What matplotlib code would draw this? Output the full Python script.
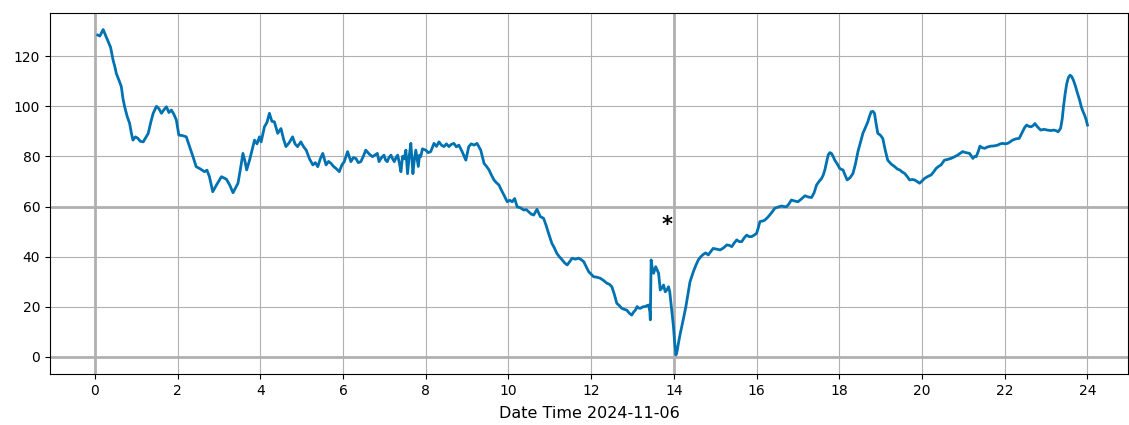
import matplotlib
matplotlib.use("Agg")
import matplotlib.pyplot as plt

# hours of the day and the reading
hours = [
    0.07, 0.12, 0.2, 0.26, 0.32, 0.38, 0.44, 0.48, 0.52, 0.58, 0.64, 0.68, 0.72, 0.78, 0.84, 0.88,
    0.92, 0.98, 1.04, 1.1, 1.17, 1.23, 1.29, 1.35, 1.41, 1.49, 1.55, 1.61, 1.67, 1.73, 1.79,
    1.85, 1.91, 1.97, 2.03, 2.12, 2.21, 2.29, 2.37, 2.45, 2.55, 2.65, 2.71, 2.77, 2.85, 2.94,
    3.06, 3.18, 3.26, 3.34, 3.46, 3.52, 3.58, 3.63, 3.67, 3.74, 3.8, 3.86, 3.92, 3.98, 4.02,
    4.1, 4.16, 4.22, 4.28, 4.34, 4.42, 4.5, 4.56, 4.62, 4.7, 4.78, 4.84, 4.9, 4.98, 5.04,
    5.11, 5.19, 5.27, 5.33, 5.39, 5.45, 5.51, 5.59, 5.65, 5.71, 5.77, 5.83, 5.91, 5.97, 6.03,
    6.11, 6.19, 6.25, 6.31, 6.37, 6.43, 6.49, 6.55, 6.63, 6.71, 6.77, 6.83, 6.87, 6.93, 6.99,
    7.03, 7.07, 7.11, 7.16, 7.2, 7.24, 7.28, 7.32, 7.36, 7.4, 7.44, 7.48, 7.52, 7.56, 7.6,
    7.64, 7.69, 7.72, 7.76, 7.82, 7.85, 7.88, 7.92, 8.0, 8.06, 8.12, 8.2, 8.26, 8.32, 8.38,
    8.44, 8.5, 8.56, 8.62, 8.68, 8.74, 8.8, 8.88, 8.97, 9.04, 9.1, 9.17, 9.24, 9.33, 9.41,
    9.47, 9.53, 9.59, 9.65, 9.71, 9.77, 9.83, 9.89, 9.97, 10.03, 10.09, 10.15, 10.21, 10.29,
    10.37, 10.43, 10.49, 10.55, 10.61, 10.69, 10.77, 10.85, 10.91, 10.97, 11.05, 11.11,
    11.17, 11.23, 11.3, 11.36, 11.42, 11.48, 11.54, 11.62, 11.7, 11.76, 11.82, 11.88, 11.94,
    12.0, 12.06, 12.14, 12.22, 12.3, 12.38, 12.44, 12.5, 12.56, 12.62, 12.68, 12.74, 12.8,
    12.86, 12.92, 12.98, 13.03, 13.07, 13.11, 13.15, 13.19, 13.25, 13.31, 13.35, 13.39,
    13.42, 13.43, 13.45, 13.48, 13.51, 13.56, 13.6, 13.63, 13.67, 13.71, 13.75, 13.79, 13.83,
    13.87, 13.9, 13.93, 13.96, 13.99, 14.02, 14.05, 14.08, 14.11, 14.15, 14.19, 14.24,
    14.29, 14.34, 14.39, 14.43, 14.47, 14.53, 14.59, 14.65, 14.71, 14.77, 14.83, 14.89,
    14.95, 15.03, 15.12, 15.2, 15.28, 15.34, 15.4, 15.46, 15.52, 15.58, 15.64, 15.7, 15.76,
    15.82, 15.88, 15.94, 16.0, 16.04, 16.08, 16.14, 16.2, 16.28, 16.36, 16.44, 16.52, 16.6,
    16.66, 16.72, 16.78, 16.84, 16.92, 17.0, 17.08, 17.17, 17.25, 17.33, 17.39, 17.45, 17.51,
    17.57, 17.61, 17.65, 17.69, 17.73, 17.77, 17.81, 17.85, 17.89, 17.95, 18.01, 18.05,
    18.09, 18.14, 18.19, 18.26, 18.33, 18.39, 18.45, 18.51, 18.57, 18.63, 18.69, 18.73,
    18.77, 18.81, 18.85, 18.89, 18.93, 18.99, 19.05, 19.11, 19.17, 19.25, 19.34, 19.4,
    19.46, 19.52, 19.58, 19.64, 19.7, 19.76, 19.82, 19.88, 19.94, 20.0, 20.06, 20.14, 20.22,
    20.28, 20.34, 20.4, 20.46, 20.54, 20.62, 20.7, 20.78, 20.86, 20.92, 20.98, 21.06, 21.15,
    21.19, 21.23, 21.27, 21.31, 21.36, 21.4, 21.45, 21.51, 21.59, 21.67, 21.75, 21.83,
    21.89, 21.95, 22.01, 22.07, 22.13, 22.19, 22.27, 22.35, 22.39, 22.43, 22.48, 22.53,
    22.58, 22.63, 22.68, 22.73, 22.79, 22.87, 22.95, 23.03, 23.11, 23.19, 23.25, 23.29,
    23.35, 23.39, 23.42, 23.46, 23.5, 23.54, 23.58, 23.62, 23.66, 23.71, 23.76, 23.81,
    23.85, 23.89, 23.93, 23.97, 24.0,
]
values = [
    128.4, 128.0, 130.6, 128.2, 125.7, 123.5, 118.4, 116.0, 113.0, 110.5, 107.8, 103.0, 99.8, 96.0, 93.2, 89.5,
    86.5, 87.8, 87.2, 86.0, 85.8, 87.5, 89.2, 93.5, 97.2, 100.0, 99.0, 97.2, 98.6, 99.8, 97.5,
    98.5, 96.8, 94.5, 88.5, 88.3, 87.8, 83.9, 80.0, 75.9, 75.0, 73.9, 74.5, 71.9, 65.9, 68.6,
    71.9, 70.9, 68.6, 65.5, 69.3, 75.0, 81.2, 78.0, 74.6, 78.5, 82.5, 86.5, 85.0, 87.8, 85.8,
    91.8, 93.5, 97.2, 94.0, 93.8, 89.2, 91.1, 87.0, 83.9, 85.5, 87.8, 85.0, 83.9, 85.8, 84.0,
    82.5, 79.0, 76.6, 77.5, 75.9, 79.0, 81.2, 76.6, 78.0, 77.2, 76.0, 75.2, 73.9, 76.5, 77.9,
    81.9, 77.9, 79.5, 79.2, 77.5, 77.9, 80.0, 82.5, 81.0, 79.9, 80.5, 81.2, 77.9, 79.5, 80.5,
    78.5, 77.9, 79.5, 80.5, 79.0, 77.9, 79.5, 80.5, 77.5, 73.9, 80.0, 79.0, 82.5, 73.1, 80.0,
    85.2, 73.1, 78.0, 82.5, 76.0, 80.5, 79.9, 83.0, 82.5, 81.5, 81.9, 85.2, 84.0, 85.8, 84.5,
    83.9, 85.0, 83.9, 84.8, 85.2, 83.8, 84.5, 81.9, 78.5, 83.9, 85.0, 84.5, 85.2, 82.5, 77.2,
    76.0, 74.6, 72.5, 70.6, 69.5, 68.6, 66.5, 64.6, 61.9, 62.5, 61.9, 63.2, 59.9, 59.5,
    58.6, 58.8, 57.9, 57.0, 56.6, 58.9, 56.0, 55.3, 52.5, 49.3, 45.3, 43.5,
    41.3, 40.0, 38.7, 37.5, 36.7, 38.0, 39.4, 39.0, 39.4, 38.8, 38.0, 36.0, 34.0,
    33.0, 32.0, 31.8, 31.4, 30.5, 29.4, 29.0, 28.0, 25.0, 21.4, 20.5, 19.4, 19.0,
    18.7, 17.5, 16.7, 18.0, 18.7, 20.1, 19.5, 19.4, 20.0, 20.1, 20.5, 20.7,
    18.0, 14.8, 38.7, 35.0, 33.4, 36.0, 34.5, 33.4, 26.7, 27.5, 28.7, 26.0, 26.7,
    28.0, 26.0, 21.4, 17.0, 12.1, 5.5, 0.8, 2.5, 5.5, 9.0, 12.1, 16.0,
    20.1, 25.0, 30.0, 32.0, 34.0, 36.5, 38.7, 40.0, 40.9, 41.5, 40.7, 42.0,
    43.3, 43.0, 42.7, 43.5, 44.7, 44.5, 44.0, 45.5, 46.7, 46.0, 46.0, 47.5, 48.6,
    48.0, 48.0, 48.6, 49.3, 51.5, 54.0, 54.2, 54.6, 55.9, 57.5, 59.3, 59.8, 60.2,
    60.0, 59.9, 61.0, 62.6, 62.2, 61.9, 63.0, 64.3, 63.8, 63.6, 65.5, 68.6, 70.0,
    71.2, 72.5, 74.6, 77.5, 80.5, 81.5, 81.2, 80.0, 78.5, 77.0, 75.2, 74.8,
    74.6, 72.5, 70.6, 71.5, 73.2, 77.0, 81.9, 85.5, 89.2, 91.5, 93.8, 96.0,
    97.8, 98.0, 97.2, 93.0, 89.2, 88.5, 87.2, 82.5, 78.5, 77.0, 75.9, 75.0,
    74.6, 73.8, 73.2, 72.0, 70.6, 70.8, 70.6, 70.0, 69.3, 70.2, 71.2, 72.0, 72.6,
    73.8, 75.2, 76.0, 76.6, 78.5, 78.8, 79.2, 79.8, 80.5, 81.2, 81.9, 81.5, 81.2,
    80.2, 79.2, 80.0, 79.9, 82.0, 84.1, 83.5, 83.2, 83.8, 84.1, 84.2, 84.5,
    85.0, 85.2, 85.0, 85.2, 85.8, 86.5, 87.0, 87.2, 88.5, 89.8, 91.5, 92.5,
    92.0, 91.8, 92.2, 93.1, 91.8, 90.5, 90.8, 90.5, 90.3, 90.5, 90.2, 89.8,
    91.2, 95.0, 99.8, 105.0, 109.1, 111.5, 112.4, 111.8, 110.4, 108.0, 105.1, 102.5,
    99.8, 98.0, 96.5, 94.5, 92.5,
]

x_ticks = list(range(0, 25, 2))
y_ticks = list(range(0, 121, 20))
marker_pos = (13.83, 52.5)

fig = plt.figure(figsize=(11.29, 4.25), dpi=100)
ax = fig.add_axes([50 / 1129, 51 / 425, 1078 / 1129, 361 / 425])

ax.grid(True, color="#b0b0b0", linewidth=0.8)
ax.set_axisbelow(True)
# heavier reference lines
ax.axhline(0, color="#b0b0b0", linewidth=2, zorder=1)
ax.axhline(60, color="#b0b0b0", linewidth=2, zorder=1)
ax.axvline(0, color="#b0b0b0", linewidth=2, zorder=1)
ax.axvline(14, color="#b0b0b0", linewidth=2, zorder=1)

ax.plot(hours, values, color="#0072B2", linewidth=2, zorder=3)
ax.text(marker_pos[0], marker_pos[1], "*", fontsize=15, fontweight="bold", color="black",
        ha="center", va="center", zorder=4)

ax.set_xticks(x_ticks)
ax.set_yticks(y_ticks)
ax.set_xlim(-1.085, 24.98)
ax.set_ylim(-6.8, 137.2)
ax.set_xlabel("Date Time 2024-11-06", fontsize=11.5, labelpad=6)
ax.tick_params(labelsize=10)

fig.savefig("out.png", dpi=100)
